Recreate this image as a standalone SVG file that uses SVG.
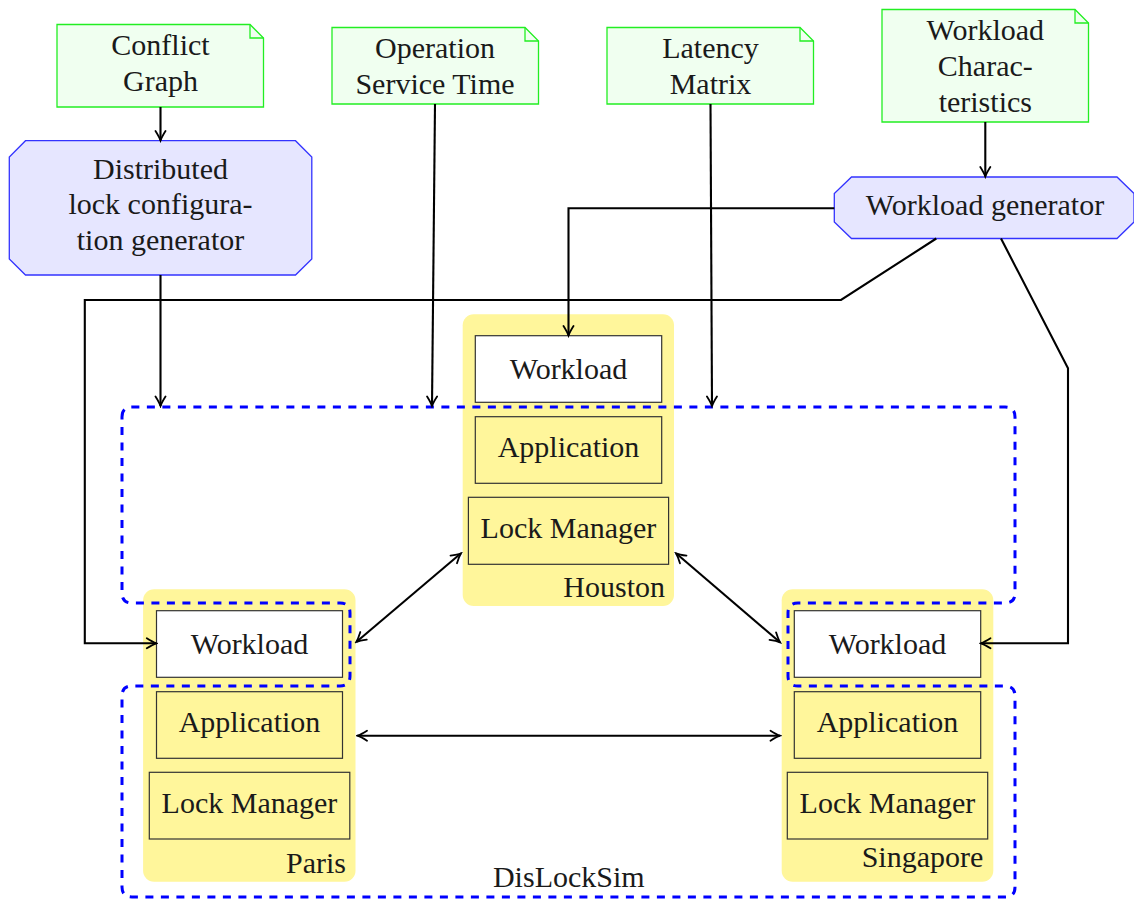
<svg xmlns="http://www.w3.org/2000/svg" width="1134" height="900" viewBox="0 0 1134 900">
<defs>
<style>
text{font-family:"Liberation Serif","Times New Roman",serif;font-size:30px;fill:#1a1a1a;text-anchor:middle}
.r{text-anchor:end}
.note{fill:#f0fff0;stroke:#22ee22;stroke-width:1.3}
.fold{fill:none;stroke:#22ee22;stroke-width:1.3}
.oct{fill:#e6e6ff;stroke:#3333ff;stroke-width:1.3}
.site{fill:#fff69b;stroke:none}
.wl{fill:#ffffff;stroke:#333;stroke-width:1.2}
.bx{fill:#fff69b;stroke:#333;stroke-width:1.2}
.ln{fill:none;stroke:#000;stroke-width:2.1}
.dash{fill:none;stroke:#0000ff;stroke-width:3;stroke-dasharray:8 7.5}
</style>
<marker id="ar" viewBox="-11 -7 13 14" refX="0" refY="0" markerWidth="13" markerHeight="14" markerUnits="userSpaceOnUse" orient="auto-start-reverse">
<path d="M -9.5 -5 Q -3.5 -1.2 0 0 Q -3.5 1.2 -9.5 5" fill="none" stroke="#000" stroke-width="1.8" stroke-linecap="round"/>
</marker>
</defs>
<rect width="1134" height="900" fill="#fff"/>

<g id="note-conflict">
<path class="note" d="M57 24.5 H250 L263.5 38 V107 H57 Z"/>
<path class="fold" d="M250 24.5 V38 H263.5"/>
<text x="160.5" y="55">Conflict</text>
<text x="160.5" y="90.5">Graph</text>
</g>
<g id="note-service">
<path class="note" d="M332 27.5 H525 L538.5 41 V104 H332 Z"/>
<path class="fold" d="M525 27.5 V41 H538.5"/>
<text x="435" y="58.3">Operation</text>
<text x="435" y="94">Service Time</text>
</g>
<g id="note-latency">
<path class="note" d="M607 27.5 H800 L813.5 41 V104 H607 Z"/>
<path class="fold" d="M800 27.5 V41 H813.5"/>
<text x="710.5" y="58.3">Latency</text>
<text x="710.5" y="94">Matrix</text>
</g>
<g id="note-workload">
<path class="note" d="M882 9.5 H1075 L1088.5 23 V122 H882 Z"/>
<path class="fold" d="M1075 9.5 V23 H1088.5"/>
<text x="985.3" y="40">Workload</text>
<text x="985.3" y="76">Charac-</text>
<text x="985.3" y="111.7">teristics</text>
</g>

<g id="lock-config-generator">
<path class="oct" d="M25.5 140.7 H295.5 L311.8 157 V259 L295.5 275 H25.5 L9.3 259 V157 Z"/>
<text x="160.5" y="179">Distributed</text>
<text x="160.5" y="214.3">lock configura-</text>
<text x="160.5" y="250">tion generator</text>
</g>
<g id="workload-generator">
<path class="oct" d="M851.5 177 H1117 L1134 193.5 V222 L1117 238.5 H851.5 L834.3 222 V193.5 Z"/>
<text x="985" y="215">Workload generator</text>
</g>

<g id="houston">
<rect class="site" x="462.7" y="314.3" width="211.3" height="291.7" rx="11"/>
<rect class="wl" x="475.3" y="335.7" width="186.4" height="66.6"/>
<text x="568.5" y="379.3">Workload</text>
<rect class="bx" x="475.3" y="416.7" width="186.4" height="66.6"/>
<text x="568.5" y="456.7">Application</text>
<rect class="bx" x="468.4" y="497.3" width="200.2" height="67"/>
<text x="568.5" y="538.3">Lock Manager</text>
<text class="r" x="665" y="596.7">Houston</text>
</g>
<g id="paris">
<rect class="site" x="143.1" y="589.3" width="212.4" height="292.4" rx="11"/>
<rect class="wl" x="156.5" y="610.7" width="186" height="66.6"/>
<text x="249.5" y="654">Workload</text>
<rect class="bx" x="156.5" y="691.7" width="186" height="66.6"/>
<text x="249.5" y="731.7">Application</text>
<rect class="bx" x="149.3" y="772.3" width="200.5" height="66.7"/>
<text x="249.5" y="813.3">Lock Manager</text>
<text class="r" x="346" y="872.7">Paris</text>
</g>
<g id="singapore">
<rect class="site" x="781.7" y="589.3" width="211.6" height="292.4" rx="11"/>
<rect class="wl" x="794.3" y="610.7" width="186.4" height="66.6"/>
<text x="887.5" y="654">Workload</text>
<rect class="bx" x="794.3" y="691.7" width="186.4" height="66.6"/>
<text x="887.5" y="731.7">Application</text>
<rect class="bx" x="787.3" y="772.3" width="200.4" height="66.7"/>
<text x="887.5" y="813.3">Lock Manager</text>
<text class="r" x="983.3" y="866.7">Singapore</text>
</g>

<g id="dislocksim">
<path class="dash" d="M122 417 Q122 407 132 407 L1005 407 Q1015 407 1015 417 L1015 593 Q1015 603 1005 603 L798 603 Q788 603 788 613 L788 676 Q788 686 798 686 L1005 686 Q1015 686 1015 696 L1015 887 Q1015 897 1005 897 L132 897 Q122 897 122 887 L122 696 Q122 686 132 686 L340 686 Q350 686 350 676 L350 613 Q350 603 340 603 L132 603 Q122 603 122 593 Z"/>
<text x="568.8" y="887.3">DisLockSim</text>
</g>

<g id="connectors">
<path class="ln" marker-end="url(#ar)" d="M160.5 107 V140.5"/>
<path class="ln" marker-end="url(#ar)" d="M160.5 275 V406"/>
<path class="ln" marker-end="url(#ar)" d="M435 104 L432 406"/>
<path class="ln" marker-end="url(#ar)" d="M710.5 104 L712 406"/>
<path class="ln" marker-end="url(#ar)" d="M985.3 122 V176.5"/>
<path class="ln" marker-end="url(#ar)" d="M834.3 208.3 H568.5 V335.5"/>
<path class="ln" marker-end="url(#ar)" d="M936.3 238.5 L841 300 H84.8 V643.3 H156.3"/>
<path class="ln" marker-end="url(#ar)" d="M1001 238.5 L1068 368.3 V643.3 H981"/>
<path class="ln" marker-start="url(#ar)" marker-end="url(#ar)" d="M461 553.3 L356.3 642"/>
<path class="ln" marker-start="url(#ar)" marker-end="url(#ar)" d="M676 553.3 L780 642.3"/>
<path class="ln" marker-start="url(#ar)" marker-end="url(#ar)" d="M357.5 735.7 H780"/>
</g>
</svg>
